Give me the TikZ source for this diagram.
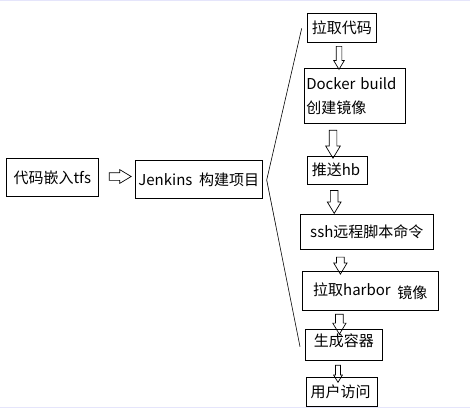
\documentclass[tikz,border=0pt]{standalone}
\usepackage{fontspec}
\setmainfont{Noto Sans CJK SC}
\usetikzlibrary{shapes.arrows}

\tikzset{
    stepbox/.style={draw, line width=0.8pt, inner sep=2pt,
        font=\fontsize{15}{18}\selectfont},
    fat/.style={single arrow, draw, line width=0.7pt, inner xsep=0pt,
        outer sep=0pt, single arrow head indent=0pt,
        single arrow tip angle=62, minimum height=#1},
    frameline/.style={draw=black!15!blue!10!white, line width=1.2pt}
}

\begin{document}
\begin{tikzpicture}[x=1pt, y=-1pt]
	    \useasboundingbox (0,0) rectangle (470,409);
	    \draw[frameline] (0,0.6) -- (470,0.6);
	    \draw[frameline] (0,407.5) -- (470,407.5);
	    % left part
	    \node[stepbox, minimum width=92pt, minimum height=38pt] (tfs) at (52.3,177.7) {代码嵌入tfs};
	    \node[stepbox, minimum width=127pt, minimum height=38pt] (jenkins) at (198.8,179.5) {Jenkins\ \ 构建项目};
	    \node[fat=22pt, inner ysep=3.5pt, minimum width=13pt, single arrow head extend=3pt] (a0) at (117,176.5) {};
	    % the steps
	    \node[stepbox, minimum width=69pt, minimum height=29pt] (pull) at (341.8,28) {拉取代码};
	    \node[stepbox, minimum width=101pt, minimum height=55pt, text width=97pt, align=left] (docker) at (354.8,96) {Docker build\\[6pt]创建镜像};
	    \node[stepbox, minimum width=60pt, minimum height=28pt] (push) at (337.3,170.3) {推送hb\,};
	    \node[stepbox, minimum width=133pt, minimum height=35pt] (ssh) at (366.8,232) {ssh远程脚本命令};
	    \node[stepbox, minimum width=136pt, minimum height=39pt] (harbor) at (370.3,291) {拉取harbor\ \ \raisebox{-3pt}{镜像}};
	    \node[stepbox, minimum width=77pt, minimum height=31pt, text depth=10pt] (run) at (343.8,344.8) {生成容器};
	    \node[stepbox, minimum width=71pt, minimum height=29pt] (visit) at (341.8,391.8) {用户访问\,};
	    % block arrows
	    \node[fat=23pt, rotate=-90, inner ysep=2.5pt, minimum width=10pt, single arrow head extend=2.5pt] (a1) at (339,55.5) {};
	    \node[fat=28pt, rotate=-90, inner ysep=3.5pt, minimum width=14pt, single arrow head extend=3.5pt] (a2) at (333,141) {};
	    \node[fat=23pt, rotate=-90, inner ysep=3.5pt, minimum width=13pt, single arrow head extend=3pt] (a3) at (334.2,198.7) {};
	    \node[fat=17pt, rotate=-90, inner ysep=3.5pt, minimum width=12.5pt, single arrow head extend=2.8pt] (a4) at (340.4,262.4) {};
	    \node[fat=20pt, rotate=-90, inner ysep=3.5pt, minimum width=12.5pt, single arrow head extend=2.8pt] (a5) at (339.4,321) {};
	    \node[fat=17pt, rotate=-90, inner ysep=2.2pt, minimum width=8pt, single arrow head extend=1.8pt] (a6) at (338,371.7) {};
	    % the big bracket
	    \coordinate (btop) at (301.7,28.3);
	    \coordinate (bmid) at (266.7,180);
	    \coordinate (bbot) at (300,346.7);
	    \draw[line width=0.6pt] (btop) -- (bmid) -- (bbot);
	\end{tikzpicture}
\end{document}
